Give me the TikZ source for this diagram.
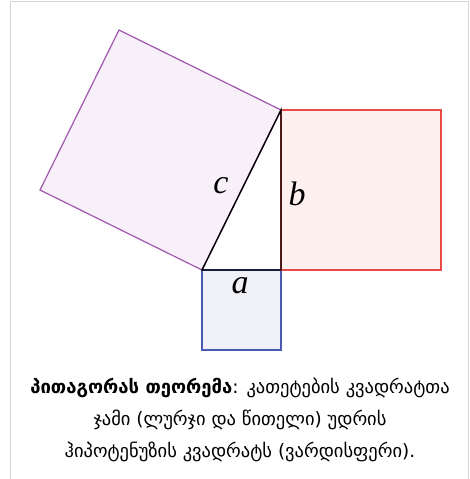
\documentclass[tikz,border=0pt]{standalone}
\usepackage{fontspec}
\newfontfamily\geofont[Script=Georgian]{DejaVu Sans}
\newfontfamily\letterfont{Liberation Serif}
\usetikzlibrary{positioning,calc}

\definecolor{hypline}{HTML}{A055B0}
\definecolor{hypfill}{HTML}{F8F0F8}
\definecolor{legbline}{HTML}{E84A4A}
\definecolor{legbfill}{HTML}{FFF0F0}
\definecolor{legaline}{HTML}{4A5AB0}
\definecolor{legafill}{HTML}{F0F1F6}
\definecolor{frameline}{HTML}{D4D4D4}

\begin{document}
\begin{tikzpicture}[x=1pt,y=-1pt,
  sq/.style={line width=1.2pt,line join=miter},
  side/.style={line width=1.4pt,black},
  letter/.style={font=\letterfont\itshape\fontsize{34}{34}\selectfont,inner sep=0pt},
  caption/.style={font=\geofont\fontsize{18.5}{32}\selectfont,align=center,inner sep=0pt}
]
\useasboundingbox (0,0) rectangle (469,479);

% rahmen
\draw[frameline,line width=1pt] (10,479) -- (10,1.5) -- (468,1.5) -- (468,479);

% dreieck
\coordinate (A) at (202,270);
\coordinate (C) at (281,270);
\coordinate (B) at (281,110);

% quadrate
\draw[sq,draw=legaline,fill=legafill] (A) -- (C) -- ++(0,80) -- ++(-79,0) -- cycle;
\draw[sq,draw=legbline,fill=legbfill] (C) -- (B) -- ++(160,0) -- ++(0,160) -- cycle;
\draw[sq,draw=hypline,fill=hypfill] (A) -- (B) -- ($(B)+(-162,-80)$) -- ($(A)+(-162,-80)$) -- cycle;

% seiten
\draw[side] (A) -- (C) -- (B) -- cycle;

% beschriftung
\node[letter] (la) at (240,286) {a};
\node[letter] (lb) at (297,194) {b};
\node[letter] (lc) at (221,186) {c};

\node[caption] (cap) at (240,420) {{\bfseries პითაგორას თეორემა}: კათეტების კვადრატთა\\ჯამი (ლურჯი და წითელი) უდრის\\ჰიპოტენუზის კვადრატს (ვარდისფერი).};

\end{tikzpicture}
\end{document}
